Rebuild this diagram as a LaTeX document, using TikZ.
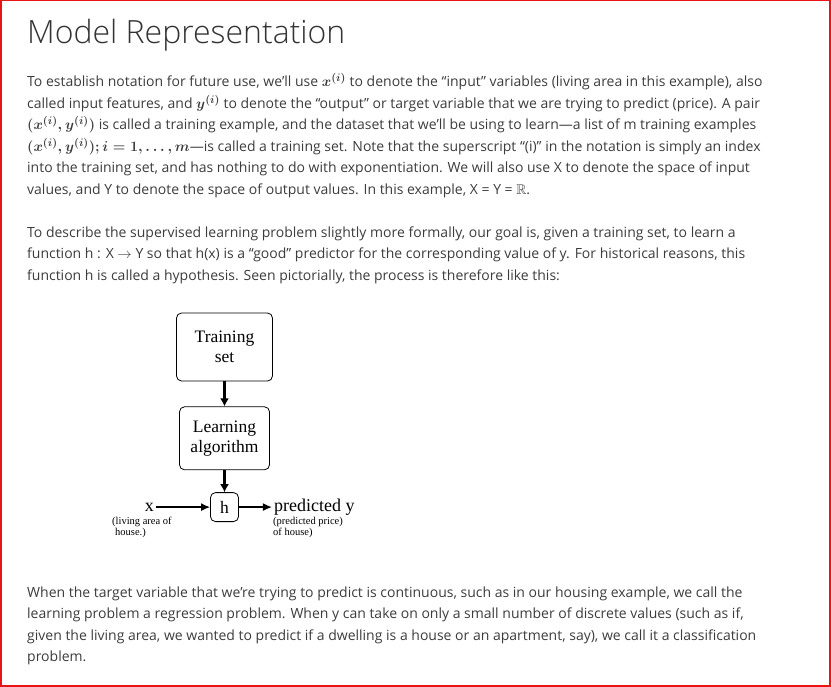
\documentclass[tikz,border=0pt]{standalone}
\usepackage{amsmath,amssymb}
\usepackage{fontspec}
\setmainfont{Open Sans}
\newfontfamily\titlefont{Open Sans Light}
\newfontfamily\figfont{Liberation Serif}
\usetikzlibrary{arrows.meta,positioning}
\definecolor{bodytext}{RGB}{60,60,60}
\definecolor{titletext}{RGB}{51,51,51}
\definecolor{pageframe}{RGB}{235,20,20}
\newcommand{\mj}[1]{{\fontsize{15}{17}\selectfont\boldmath$#1$}}
\tikzset{
    textline/.style={anchor=base west,inner sep=0pt,text=bodytext,font=\fontsize{14}{17}\selectfont},
    heading/.style={anchor=base west,inner sep=0pt,text=titletext,font=\titlefont\fontsize{32}{38}\selectfont},
    stage/.style={draw,rounded corners=5pt,align=center,line width=0.8pt,font=\figfont\fontsize{17.5}{20}\selectfont},
    lbl/.style={inner sep=2pt,font=\figfont\fontsize{18}{20}\selectfont,text height=12pt,text depth=4pt},
    note/.style={anchor=north west,align=left,inner sep=1pt,font=\figfont\fontsize{10.5}{11}\selectfont},
    flow/.style={draw,-{Latex[length=8pt,width=9pt]},line width=2.5pt},
    feed/.style={draw,-{Latex[length=9pt,width=8pt]},line width=1.3pt},
}
\begin{document}
\begin{tikzpicture}[x=1pt,y=-1pt]
\useasboundingbox (0,0) rectangle (832,687);
\draw[pageframe,line width=1.5pt] (0.75,0.75) rectangle (830,686);

\node[heading] (title) at (27,44) {Model Representation};

\node[textline] (p1a) at (27,87)    {To establish notation for future use, we’ll use \mj{x^{(i)}} to denote the “input” variables (living area in this example), also};
\node[textline] (p1b) at (27,108.5) {called input features, and \mj{y^{(i)}} to denote the “output” or target variable that we are trying to predict (price). A pair};
\node[textline] (p1c) at (27,130)   {\mj{(x^{(i)},y^{(i)})} is called a training example, and the dataset that we’ll be using to learn—a list of m training examples};
\node[textline] (p1d) at (27,151.5) {\mj{(x^{(i)},y^{(i)});i=1,\ldots,m}—is called a training set. Note that the superscript “(i)” in the notation is simply an index};
\node[textline] (p1e) at (27,173)   {into the training set, and has nothing to do with exponentiation. We will also use X to denote the space of input};
\node[textline] (p1f) at (27,194.5) {values, and Y to denote the space of output values. In this example, X = Y = $\mathbb{R}$.};

\node[textline] (p2a) at (27,237)   {To describe the supervised learning problem slightly more formally, our goal is, given a training set, to learn a};
\node[textline] (p2b) at (27,258.5) {function h : X $\rightarrow$ Y so that h(x) is a “good” predictor for the corresponding value of y. For historical reasons, this};
\node[textline] (p2c) at (27,280)   {function h is called a hypothesis. Seen pictorially, the process is therefore like this:};

\node[stage,minimum width=96pt,minimum height=68pt] (train) at (224.5,347) {Training\\set};
\node[stage,minimum width=90pt,minimum height=63pt,below=25pt of train] (learn) {Learning\\algorithm};
\node[stage,minimum width=28pt,minimum height=29pt,rounded corners=5pt,below=22pt of learn] (hyp) {h};
\node[lbl,left=54pt of hyp] (xin) {x};
\node[lbl,right=33pt of hyp] (out) {predicted y};
\node[note] (xnote) at (111,516) {(living area of\\\hspace{3pt}house.)};
\node[note] (outnote) at (272,516) {(predicted price)\\of house)};
\draw[flow] (train) -- (learn);
\draw[flow] (learn) -- (hyp);
\draw[feed] (xin) -- (hyp);
\draw[feed] (hyp) -- (out);

\node[textline] (p3a) at (27,597)   {When the target variable that we’re trying to predict is continuous, such as in our housing example, we call the};
\node[textline] (p3b) at (27,618.5) {learning problem a regression problem. When y can take on only a small number of discrete values (such as if,};
\node[textline] (p3c) at (27,640)   {given the living area, we wanted to predict if a dwelling is a house or an apartment, say), we call it a classification};
\node[textline] (p3d) at (27,661.5) {problem.};
\end{tikzpicture}
\end{document}
